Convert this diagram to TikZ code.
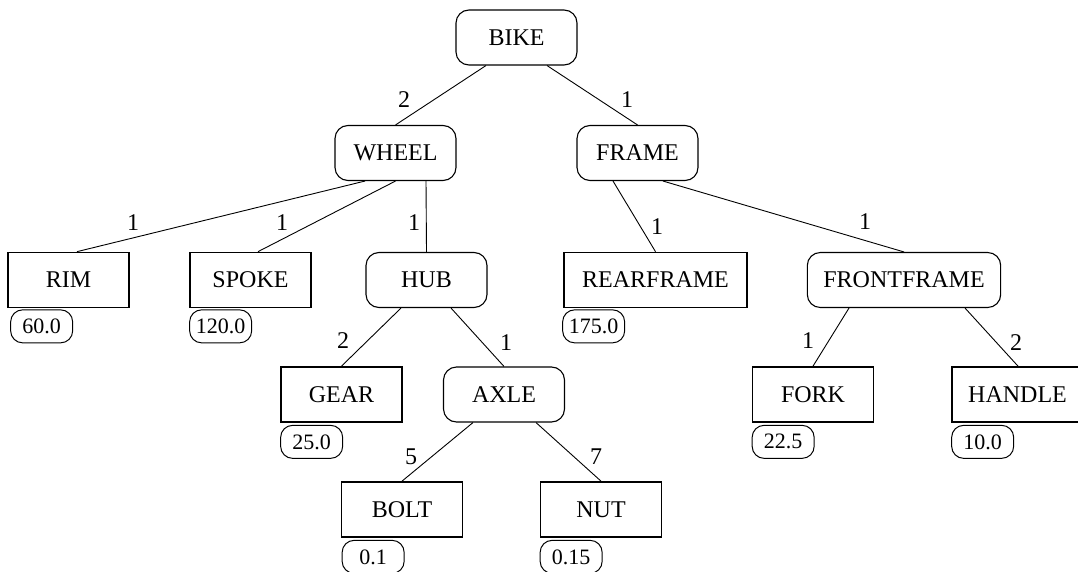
\documentclass[tikz,border=0pt]{standalone}
\usepackage{fontspec}
\setmainfont{Liberation Serif}
\usetikzlibrary{calc}

\tikzset{
  part/.style={draw, line width=1.1pt, rounded corners=13pt, minimum width=121pt,
    minimum height=55pt, inner xsep=16pt, font=\fontsize{24}{28}\selectfont},
  leaf/.style={draw, line width=1.7pt, minimum width=121pt, minimum height=55pt,
    inner xsep=16pt, font=\fontsize{24}{28}\selectfont},
  weight/.style={draw, line width=1pt, rounded corners=12pt, minimum width=62pt,
    minimum height=33pt, inner sep=0pt, anchor=north west, font=\fontsize{22}{26}\selectfont},
  qty/.style={font=\fontsize{24}{28}\selectfont, inner sep=0pt},
  link/.style={line width=0.9pt}
}

\begin{document}
\begin{tikzpicture}[x=1pt, y=-1pt]
\useasboundingbox (0,0) rectangle (1078,572);
\clip (0,0) rectangle (1078,572);

% assemblies
\node[part] (bike)  at (516.5,37.5) {BIKE};
\node[part] (wheel) at (395.5,153) {WHEEL};
\node[part] (frame) at (637.5,153) {FRAME};
\node[part] (hub)   at (426.5,280) {HUB};
\node[part] (front) at (904,280) {FRONTFRAME};
\node[part] (axle)  at (504,394.5) {AXLE};

% basic parts
\node[leaf] (rim)   at (68.5,280) {RIM};
\node[leaf] (spoke) at (250.5,280) {SPOKE};
\node[leaf, minimum width=183pt] (rear) at (655.5,280) {REARFRAME};
\node[leaf] (gear)  at (341.5,394.5) {GEAR};
\node[leaf] (fork)  at (813,394.5) {FORK};
\node[leaf, minimum width=131pt] (handle) at (1017.5,394.5) {HANDLE};
\node[leaf] (bolt)  at (402,509.5) {BOLT};
\node[leaf] (nut)   at (601,509.5) {NUT};

% unit weights
\node[weight] (wrim)    at ($(rim.south west)+(3,1)$) {60.0};
\node[weight] (wspoke)  at ($(spoke.south west)+(0,1)$) {120.0};
\node[weight] (wrear)   at ($(rear.south west)+(-1,1)$) {175.0};
\node[weight] (wgear)   at ($(gear.south west)+(0,2)$) {25.0};
\node[weight] (wfork)   at ($(fork.south west)+(0,2)$) {22.5};
\node[weight] (whandle) at ($(handle.south west)+(0,2)$) {10.0};
\node[weight] (wbolt)   at ($(bolt.south west)+(1,2)$) {0.1};
\node[weight] (wnut)    at ($(nut.south west)+(0,2)$) {0.15};

% structure links
\draw[link] ([xshift=-30.5pt]bike.south) -- (wheel.north);
\draw[link] ([xshift=30.5pt]bike.south) -- (frame.north);
\draw[link] ([xshift=-30.5pt]wheel.south) -- ([xshift=8.5pt]rim.north);
\draw[link] (wheel.south) -- ([xshift=7.5pt]spoke.north);
\draw[link] ([xshift=30.5pt]wheel.south) -- (hub.north);
\draw[link] ([xshift=-24.5pt]frame.south) -- (rear.north);
\draw[link] ([xshift=25.5pt]frame.south) -- (front.north);
\draw[link] ([xshift=-25.5pt]hub.south) -- (gear.north);
\draw[link] ([xshift=24.5pt]hub.south) -- (axle.north);
\draw[link] ([xshift=-55pt]front.south) -- (fork.north);
\draw[link] ([xshift=61pt]front.south) -- ([xshift=0.5pt]handle.north);
\draw[link] ([xshift=-31pt]axle.south) -- (bolt.north);
\draw[link] ([xshift=32pt]axle.south) -- (nut.north);

% quantities
\node[qty] (q1)  at (404,100) {2};
\node[qty] (q2)  at (627,100) {1};
\node[qty] (q3)  at (133,223) {1};
\node[qty] (q4)  at (282,223) {1};
\node[qty] (q5)  at (414,223) {1};
\node[qty] (q6)  at (657,227) {1};
\node[qty] (q7)  at (865,222) {1};
\node[qty] (q8)  at (343,341) {2};
\node[qty] (q9)  at (506,343) {1};
\node[qty] (q10) at (808,341) {1};
\node[qty] (q11) at (1016,343) {2};
\node[qty] (q12) at (411,457) {5};
\node[qty] (q13) at (596,457) {7};
\end{tikzpicture}
\end{document}
